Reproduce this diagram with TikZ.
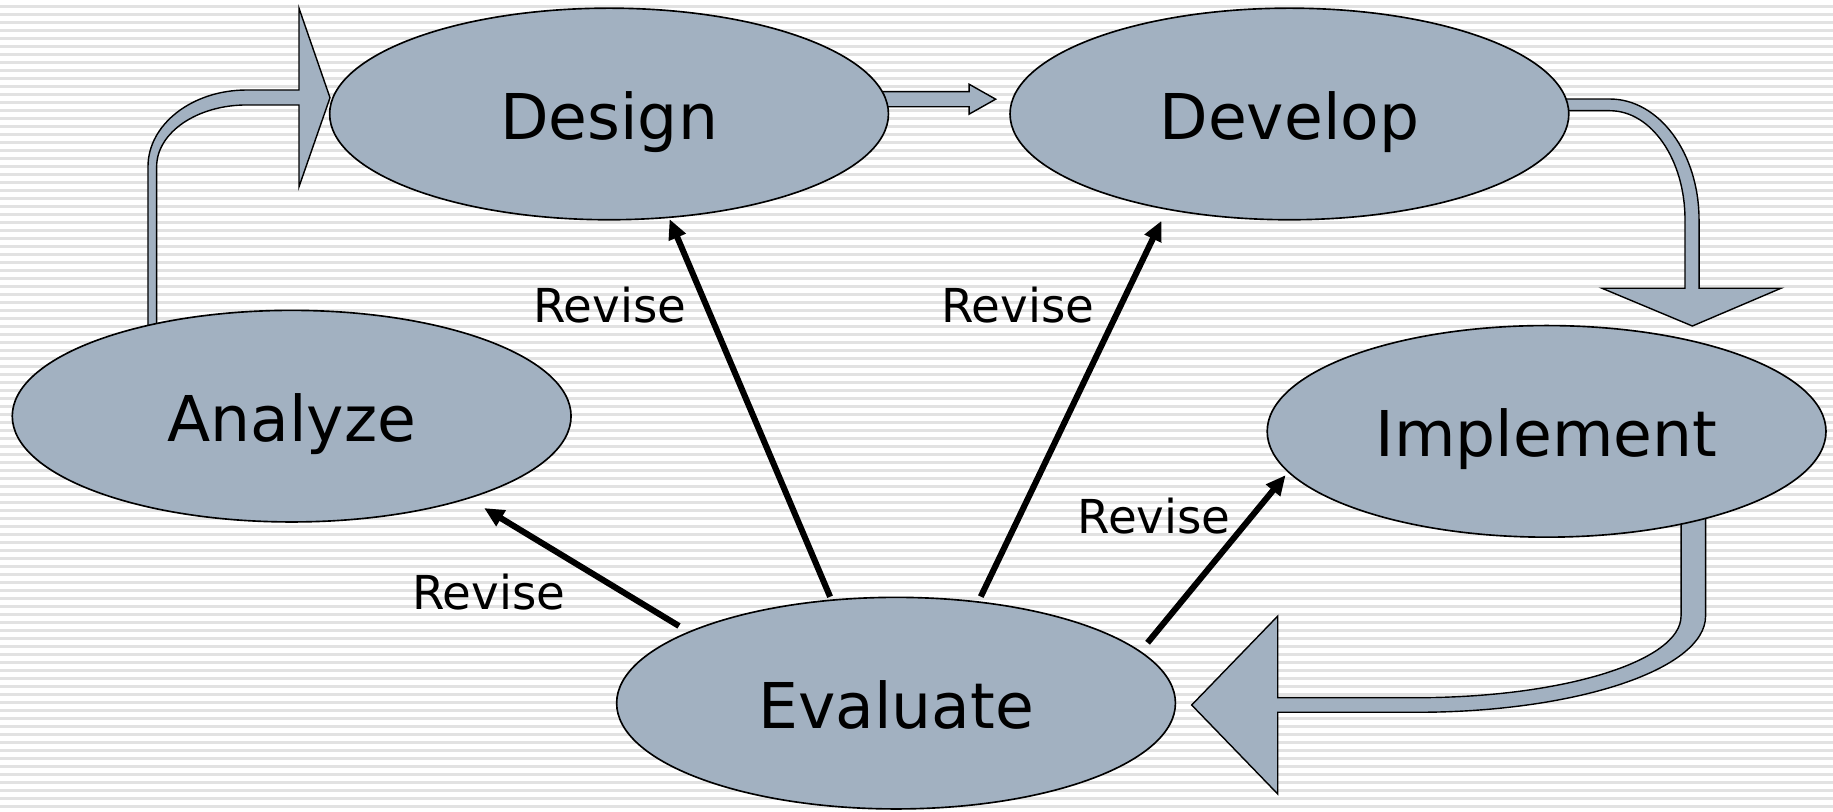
\documentclass[tikz,border=0pt]{standalone}
\usepackage{fontspec}
\setmainfont{DejaVu Sans}
\usetikzlibrary{arrows.meta,shapes.geometric,backgrounds}

\definecolor{stagefill}{RGB}{162,177,193}
\definecolor{stripegray}{RGB}{226,226,226}

\tikzset{
  stage/.style={ellipse, draw=black, line width=0.7pt, fill=stagefill,
    minimum width=239pt, minimum height=90.5pt, inner sep=0pt,
    text height=21.7pt, text depth=0pt, font=\fontsize{27}{32}\selectfont},
  revise/.style={anchor=base, inner sep=0pt, font=\fontsize{20}{24}\selectfont},
  revarrow/.style={line width=2.6pt, -{Triangle[length=8.5pt,width=7.5pt]}},
  blockarrow/.style={fill=stagefill, draw=black, line width=0.6pt},
  bgstripe/.style={draw=stripegray, line width=0.95pt},
}

\begin{document}
\begin{tikzpicture}[x=0.5pt, y=-0.5pt]
  \useasboundingbox (0,0) rectangle (1568,694);
  % the five stages
  \node[stage] (Design) at (521,97.5) {Design};
  \node[stage] (Develop) at (1103,97.5) {Develop};
  \node[stage] (Analyze) at (249.5,356) {Analyze};
  \node[stage] (Implement) at (1323,369) {Implement};
  \node[stage] (Evaluate) at (766.5,601.5) {Evaluate};
  % revise arrows, all leaving Evaluate
  \foreach \a/\tgt/\b/\s/\e in {161.6/Analyze/-25.2/4.65pt/7.65pt,
      122.6/Design/-60.6/1.25pt/0.45pt, 51.1/Develop/-142.2/2.2pt/5.2pt,
      12.07/Implement/-171/4.65pt/1.55pt}{
    \draw[revarrow, shorten <=\s, shorten >=\e] (Evaluate.\a) -- (\tgt.\b);
  }
  \foreach \x/\y [count=\i] in {418.2/521.2, 521.5/276, 870.5/276, 987.3/456.2}{
    \node[revise] (revise\i) at (\x,\y) {Revise};
  }
  \begin{scope}[on background layer]
    \fill[white] (0,0) rectangle (1568,694);
    \foreach \k in {0,...,101}{
      \draw[bgstripe] (0,5.56+6.843*\k) -- (1568,5.56+6.843*\k);
    }
    % Analyze -> Design
    \filldraw[blockarrow] (Analyze.center -| 126.6,0) -- (126.6,142.6)
      arc[start angle=180, end angle=270, x radius=84.4, y radius=65.6]
      -- (255.8,77) -- (255.8,7.1) -- (282.3,83.6) -- (255.8,159.7)
      -- (255.8,89.8) -- (211,89.8)
      arc[start angle=270, end angle=180, x radius=77, y radius=52.8]
      -- (Analyze.center -| 134,0) -- cycle;
    % Design -> Develop
    \filldraw[blockarrow] (Design.center |- 0,78.4) -- (829,78.4) -- (829,72.05)
      -- (851.7,84.85) -- (829,97.65) -- (829,91.3) -- (Design.center |- 0,91.3) -- cycle;
    % Develop -> Implement
    \filldraw[blockarrow] (Develop.center |- 0,84.7) -- (1377,84.7)
      arc[start angle=-90, end angle=0, x radius=76.4, y radius=103.3]
      -- (1453.4,246.6) -- (1523.5,246.6) -- (1447.7,278.9) -- (1370.4,246.6)
      -- (1441.4,246.6) -- (1441.4,188)
      arc[start angle=0, end angle=-90, x radius=64.4, y radius=93.3]
      -- (Develop.center |- 0,94.7) -- cycle;
    % Implement -> Evaluate
    \filldraw[blockarrow] (Implement.center -| 1459,0) -- (1459,527)
      arc[start angle=0, end angle=90, x radius=247, y radius=82.3]
      -- (1093,609.3) -- (1093,679.2) -- (1019.4,603.1) -- (1093,527)
      -- (1093,596.8) -- (1212,596.8)
      arc[start angle=90, end angle=0, x radius=226, y radius=69.8]
      -- (Implement.center -| 1438,0) -- cycle;
  \end{scope}
\end{tikzpicture}
\end{document}
